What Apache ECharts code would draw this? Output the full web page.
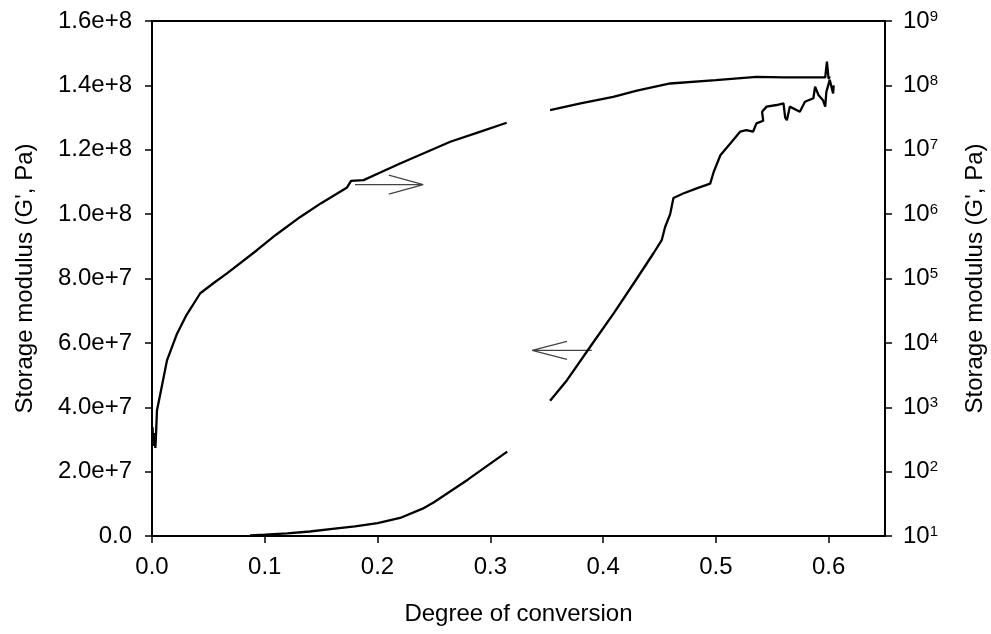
<!DOCTYPE html>
<html>
<head>
<meta charset="utf-8">
<script src="https://cdn.jsdelivr.net/npm/echarts@6/dist/echarts.min.js"></script>
<style>html,body{margin:0;padding:0;background:#fff}#c{width:991px;height:634px}</style>
</head>
<body>
<div id="c"></div>
<script>
// X ticks (degree of conversion)
var xTicks = [0, 0.1, 0.2, 0.3, 0.4, 0.5, 0.6];
// Left (linear) axis ticks
var leftTicks = [0, 2e7, 4e7, 6e7, 8e7, 1e8, 1.2e8, 1.4e8, 1.6e8];
// Right (log) axis ticks
var rightTicks = [1e1, 1e2, 1e3, 1e4, 1e5, 1e6, 1e7, 1e8, 1e9];

// Curve read against the right (log) axis: [conversion, G' Pa]
var logCurve = [
  [0.0005, 490], [0.001, 251], [0.002, 398], [0.003, 234], [0.0035, 355],
  [0.0044, 891], [0.0074, 1622], [0.0133, 5346], [0.0222, 1.39e4], [0.03, 2.6e4],
  [0.0428, 5.9e4], [0.055, 8.6e4], [0.0665, 1.2e5], [0.093, 2.75e5], [0.11, 4.79e5],
  [0.1315, 9.04e5], [0.15, 1.48e6], [0.173, 2.6e6], [0.1765, 3.28e6], [0.1876, 3.37e6],
  [0.2, 4.24e6], [0.22, 6.12e6], [0.24, 8.67e6], [0.2645, 1.33e7], [0.29, 1.88e7],
  [0.3145, 2.63e7],
  null,
  [0.353, 4.13e7], [0.38, 5.25e7], [0.409, 6.65e7], [0.43, 8.3e7], [0.4595, 1.07e8],
  [0.5, 1.21e8], [0.536, 1.36e8], [0.56, 1.33e8], [0.597, 1.33e8], [0.5985, 2.34e8],
  [0.6, 1.26e8], [0.601, 1.38e8]
];

// Curve read against the left (linear) axis: [conversion, G' Pa]
var linCurve = [
  [0.087, 2e5], [0.10, 4e5], [0.12, 8e5], [0.14, 1.4e6], [0.16, 2.2e6],
  [0.18, 3.0e6], [0.20, 4.0e6], [0.22, 5.6e6], [0.24, 8.5e6], [0.25, 1.05e7],
  [0.26, 1.28e7], [0.28, 1.75e7], [0.30, 2.25e7], [0.315, 2.62e7],
  null,
  [0.353, 4.2e7], [0.368, 4.84e7], [0.39, 5.95e7], [0.41, 6.95e7], [0.43, 8.0e7],
  [0.445, 8.8e7], [0.452, 9.19e7], [0.455, 9.6e7], [0.4595, 1.0e8], [0.4624, 1.05e8],
  [0.471, 1.064e8], [0.483, 1.08e8], [0.495, 1.095e8], [0.498, 1.13e8], [0.504, 1.183e8],
  [0.513, 1.22e8], [0.5215, 1.256e8], [0.527, 1.261e8], [0.533, 1.256e8], [0.536, 1.282e8],
  [0.542, 1.29e8], [0.541, 1.318e8], [0.545, 1.334e8], [0.554, 1.339e8], [0.56, 1.344e8],
  [0.5615, 1.30e8], [0.563, 1.292e8], [0.5656, 1.334e8], [0.5745, 1.318e8], [0.579, 1.349e8],
  [0.5865, 1.36e8], [0.588, 1.396e8], [0.591, 1.37e8], [0.595, 1.354e8], [0.597, 1.334e8],
  [0.598, 1.38e8], [0.601, 1.417e8], [0.604, 1.375e8], [0.6045, 1.40e8]
];

// Annotation arrows (in left-axis units)
var arrowRight = [[0.180, 1.0916e8], [0.2405, 1.0916e8], null,
                  [0.21, 1.121e8], [0.2405, 1.0916e8], [0.21, 1.062e8]];
var arrowLeft = [[0.390, 5.77e7], [0.3371, 5.77e7], null,
                 [0.368, 6.05e7], [0.3371, 5.77e7], [0.368, 5.49e7]];

var FONT = 'Liberation Sans';
var FS = 24;

function sciLabel(v) {
  if (v === 0) return '0.0';
  var e = Math.floor(Math.log10(v) + 1e-9);
  var m = v / Math.pow(10, e);
  return m.toFixed(1) + 'e+' + e;
}
function logLabel(v) {
  var e = Math.round(Math.log10(v));
  return '{b|10}{s|' + e + '}';
}

var chart = echarts.init(document.getElementById('c'));
chart.setOption({
  animation: false,
  backgroundColor: '#fff',
  grid: {left: 152, right: 106, top: 21, bottom: 98, show: true,
         outerBoundsMode: 'none', containLabel: false,
         borderColor: '#000', borderWidth: 2, backgroundColor: 'transparent'},
  xAxis: {
    type: 'value', min: 0, max: 0.65,
    name: 'Degree of conversion', nameLocation: 'middle', nameGap: 66,
    nameTextStyle: {fontFamily: FONT, fontSize: FS, color: '#000'},
    axisLine: {show: true, onZero: false, lineStyle: {color: '#000', width: 2}},
    axisTick: {show: true, inside: false, length: 7, customValues: xTicks,
               lineStyle: {color: '#000', width: 1.5}},
    axisLabel: {customValues: xTicks, margin: 19, fontFamily: FONT, fontSize: FS, color: '#000',
                formatter: function (v) { return v.toFixed(1); }},
    splitLine: {show: false}
  },
  yAxis: [{
    type: 'value', min: 0, max: 1.6e8, interval: 2e7, position: 'left',
    name: "Storage modulus (G', Pa)", nameLocation: 'middle', nameGap: 115, nameRotate: 90,
    nameTextStyle: {fontFamily: FONT, fontSize: FS, color: '#000'},
    axisLine: {show: true, onZero: false, lineStyle: {color: '#000', width: 2}},
    axisTick: {show: true, inside: false, length: 7, lineStyle: {color: '#000', width: 1.5}},
    axisLabel: {margin: 20, fontFamily: FONT, fontSize: FS, color: '#000', formatter: sciLabel},
    splitLine: {show: false}
  }, {
    type: 'log', logBase: 10, min: 10, max: 1e9, position: 'right',
    name: "Storage modulus (G', Pa)", nameLocation: 'middle', nameGap: 78, nameRotate: 90,
    nameTextStyle: {fontFamily: FONT, fontSize: FS, color: '#000'},
    axisLine: {show: true, onZero: false, lineStyle: {color: '#000', width: 2}},
    axisTick: {show: true, inside: false, length: 7, customValues: rightTicks,
               lineStyle: {color: '#000', width: 1.5}},
    axisLabel: {customValues: rightTicks, margin: 18, formatter: logLabel,
      rich: {
        b: {fontFamily: FONT, fontSize: FS, color: '#000', lineHeight: 24},
        s: {fontFamily: FONT, fontSize: 15, color: '#000', lineHeight: 15, verticalAlign: 'top'}
      }},
    splitLine: {show: false}
  }],
  series: [{
    type: 'line', yAxisIndex: 1, data: logCurve, showSymbol: false, connectNulls: false,
    lineStyle: {color: '#000', width: 2.3}, z: 3
  }, {
    type: 'line', yAxisIndex: 0, data: linCurve, showSymbol: false, connectNulls: false,
    lineStyle: {color: '#000', width: 2.3}, z: 3
  }, {
    type: 'line', yAxisIndex: 0, data: arrowRight, showSymbol: false, connectNulls: false,
    lineStyle: {color: '#444', width: 1.3}, z: 2
  }, {
    type: 'line', yAxisIndex: 0, data: arrowLeft, showSymbol: false, connectNulls: false,
    lineStyle: {color: '#444', width: 1.3}, z: 2
  }]
});
</script>
</body>
</html>
